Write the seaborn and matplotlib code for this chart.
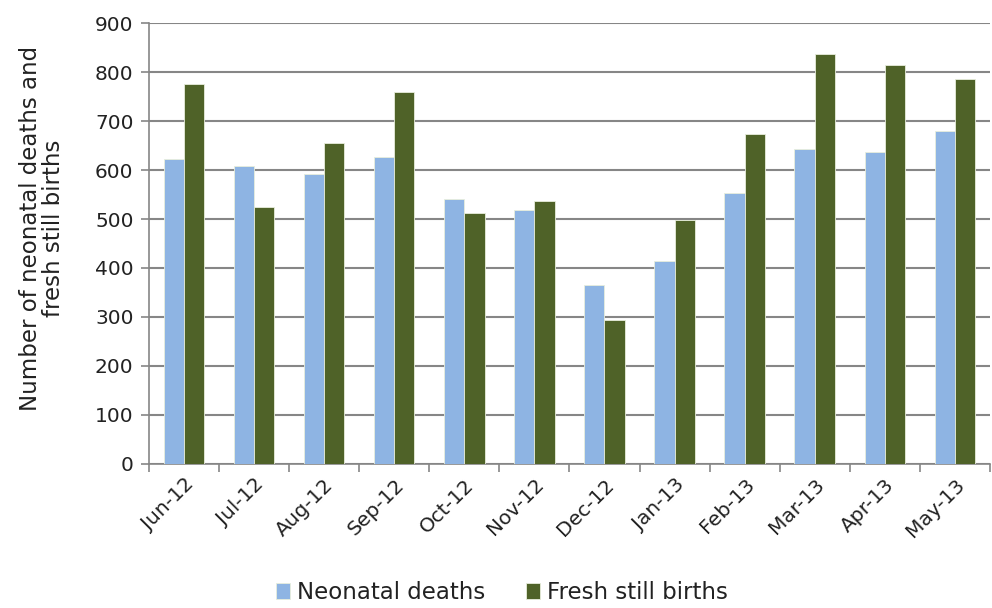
import matplotlib
matplotlib.use("Agg")
import matplotlib.pyplot as plt
import seaborn as sns
import pandas as pd
import numpy as np

months = ["Jun-12", "Jul-12", "Aug-12", "Sep-12", "Oct-12", "Nov-12",
          "Dec-12", "Jan-13", "Feb-13", "Mar-13", "Apr-13", "May-13"]
neonatal_deaths = [622, 608, 592, 627, 540, 518, 365, 414, 553, 643, 637, 680]
fresh_still_births = [775, 524, 656, 760, 512, 537, 294, 498, 674, 837, 814, 786]
series_names = ["Neonatal deaths", "Fresh still births"]
y_ticks = [0, 100, 200, 300, 400, 500, 600, 700, 800, 900]

df = pd.DataFrame({
    "month": months * 2,
    "value": neonatal_deaths + fresh_still_births,
    "series": [series_names[0]] * len(months) + [series_names[1]] * len(months),
})

sns.set_theme(style="white")
plt.rcParams["font.family"] = ["DejaVu Sans"]

fig = plt.figure(figsize=(9.92, 6.08), dpi=100)
ax = fig.add_axes([0.150, 0.237, 0.848, 0.725])

palette = {series_names[0]: "#8EB4E3", series_names[1]: "#4F6228"}
sns.barplot(data=df, x="month", y="value", hue="series", order=months,
            hue_order=series_names, palette=palette, width=0.58,
            saturation=1, edgecolor="#E8EEDC", linewidth=0.6, ax=ax, zorder=3)

ax.set_ylim(0, 900)
ax.set_xlim(-0.5, len(months) - 0.5)
ax.set_yticks(y_ticks)
ax.yaxis.grid(True, color="#868686", linewidth=1.5, zorder=0)
ax.set_axisbelow(True)

for side in ["top", "right"]:
    ax.spines[side].set_visible(False)
for side in ["left", "bottom"]:
    ax.spines[side].set_color("#868686")
    ax.spines[side].set_linewidth(1.2)

ax.tick_params(axis="y", which="major", direction="out", length=6, width=1.2,
               color="#868686", labelsize=14.5, labelcolor="#222222", pad=5, left=True)
ax.set_xticks(range(len(months)))
ax.set_xticks(np.arange(-0.5, len(months), 1.0), minor=True)
ax.tick_params(axis="x", which="major", length=0, labelsize=14.5,
               labelcolor="#222222", pad=8)
ax.tick_params(axis="x", which="minor", direction="out", length=6, width=1.2,
               color="#868686", bottom=True)
ax.set_xticklabels(months, rotation=45, ha="right", rotation_mode="anchor")
for lbl in ax.get_xticklabels():
    lbl.set_x(lbl.get_position()[0])

ax.set_xlabel("")
ax.set_ylabel("Number of neonatal deaths and\nfresh still births",
              fontsize=16.5, color="#222222", linespacing=1.0)
ax.yaxis.set_label_coords(-0.100, 0.535)

handles, labels = ax.get_legend_handles_labels()
ax.legend(handles, labels, loc="lower center", bbox_to_anchor=(0.42, -0.365),
          ncol=2, frameon=False, fontsize=16.5, handlelength=0.6, handleheight=0.7,
          handletextpad=0.3, columnspacing=1.8, labelcolor="#222222")

fig.savefig("out.png", dpi=100)
